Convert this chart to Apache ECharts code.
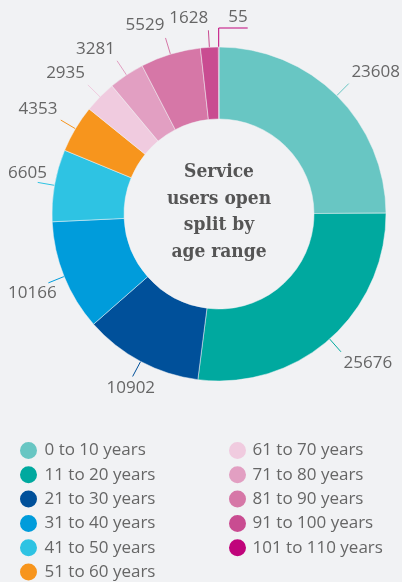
<!DOCTYPE html>
<html>
<head>
<meta charset="utf-8">
<script src="https://cdn.jsdelivr.net/npm/echarts@6/dist/echarts.min.js"></script>
<style>
    html, body { margin: 0; padding: 0; background: #f1f2f4; }
    #chart { width: 402px; height: 582px; }
</style>
</head>
<body>
<div id="chart"></div>
<script>
// Data
const ageRanges = [
    '0 to 10 years', '11 to 20 years', '21 to 30 years', '31 to 40 years',
    '41 to 50 years', '51 to 60 years', '61 to 70 years', '71 to 80 years',
    '81 to 90 years', '91 to 100 years', '101 to 110 years'
];
const userCounts = [23608, 25676, 10902, 10166, 6605, 4353, 2935, 3281, 5529, 1628, 55];
const sliceColors = [
    '#68c6c3', '#00a99f', '#00509a', '#009cdb', '#2ec3e3', '#f7951d',
    '#f0cbdf', '#e29fc2', '#d677a7', '#c94c91', '#c0047b'
];
const leftLegend = ageRanges.slice(0, 6);
const rightLegend = ageRanges.slice(6);

const chartEl = document.getElementById('chart');
const chart = echarts.init(chartEl);

// put each value label just past its label line, kept inside the canvas
function placeLabel(params) {
    const pts = params.labelLinePoints;
    if (!pts) return {};
    const p0 = pts[0];
    const p1 = pts[1];

    // the tiny last slice: line goes straight up, then to the right
    if (params.dataIndex === ageRanges.length - 1) {
        const up = [p0[0], p0[1] - 19];
        const end = [p0[0] + 29, p0[1] - 19];
        return { x: end[0], y: end[1] - 2, align: 'right', verticalAlign: 'bottom', labelLinePoints: [p0, up, end] };
    }

    const len = Math.hypot(p1[0] - p0[0], p1[1] - p0[1]) || 1;
    const dx = (p1[0] - p0[0]) / len;
    const dy = (p1[1] - p0[1]) / len;
    let x = p1[0] + dx * 4;
    const y = p1[1] + dy * 4;
    const align = dy > 0.8 ? 'center' : (dx >= 0 ? 'left' : 'right');
    const verticalAlign = dy < 0 ? 'bottom' : 'top';
    const w = params.labelRect.width;
    const left = align === 'left' ? x : (align === 'right' ? x - w : x - w / 2);
    if (left < 8) x += 8 - left;
    if (left + w > 400) x -= left + w - 400;
    return { x: x, y: y, align: align, verticalAlign: verticalAlign, labelLinePoints: [p0, p1, p1] };
}

const legendText = {
    color: '#666',
    fontFamily: 'Open Sans',
    fontSize: 17
};

const option = {
    animation: false,
    backgroundColor: '#f1f2f4',
    color: sliceColors,
    title: {
        text: 'Service\nusers open\nsplit by\nage range',
        left: 219,
        top: 159,
        textAlign: 'center',
        padding: 0,
        textStyle: {
            fontFamily: 'DejaVu Serif Condensed',
            fontWeight: 'bold',
            fontSize: 19,
            lineHeight: 26.5,
            color: '#555'
        }
    },
    legend: [
        {
            data: leftLegend,
            orient: 'vertical',
            left: 18,
            top: 440,
            height: 200,
            padding: 0,
            icon: 'circle',
            itemWidth: 22,
            itemHeight: 19,
            itemGap: 3.3,
            selectedMode: false,
            textStyle: legendText
        },
        {
            data: rightLegend,
            orient: 'vertical',
            left: 227,
            top: 440,
            height: 200,
            padding: 0,
            icon: 'circle',
            itemWidth: 20,
            itemHeight: 19,
            itemGap: 3.3,
            selectedMode: false,
            textStyle: legendText
        }
    ],
    series: [
        {
            type: 'pie',
            center: [219, 214],
            radius: [95, 167],
            startAngle: 90,
            clockwise: true,
            avoidLabelOverlap: false,
            emphasis: { disabled: true },
            itemStyle: {
                borderColor: '#f1f2f4',
                borderWidth: 0.5
            },
            label: {
                show: true,
                position: 'outside',
                formatter: '{c}',
                color: '#666',
                fontFamily: 'Open Sans',
                fontSize: 17
            },
            labelLine: {
                show: true,
                length: 17,
                length2: 0,
                lineStyle: { width: 1 }
            },
            labelLayout: placeLabel,
            data: ageRanges.map(function(name, i) {
                return { name: name, value: userCounts[i] };
            })
        }
    ]
};

chart.setOption(option);
</script>
</body>
</html>
